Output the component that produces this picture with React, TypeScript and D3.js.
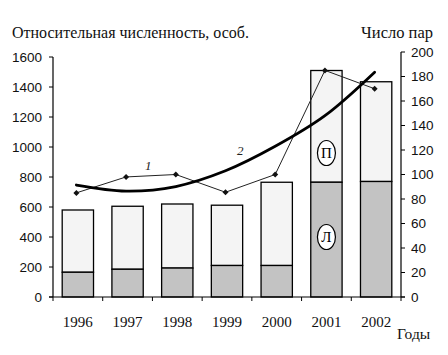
import React from "react";
import * as d3 from "d3";

const years = ["1996", "1997", "1998", "1999", "2000", "2001", "2002"];
// Л (lower, grey) and П (upper, light) components of relative abundance
const lowerL = [165, 185, 193, 210, 210, 765, 770];
const upperP = [415, 420, 427, 402, 555, 745, 665];
// Line 1: number of pairs
const pairs = [85, 98, 100, 85.5, 100, 185, 170];
// Line 2: trend of number of pairs
const trend = [91.4, 86.5, 90.2, 103, 123, 148, 183.5];
const leftTicks = [0, 200, 400, 600, 800, 1000, 1200, 1400, 1600];
const rightTicks = [0, 20, 40, 60, 80, 100, 120, 140, 160, 180, 200];

const W = 448;
const H = 355;
const X0 = 53;
const X1 = 401;
const Y0 = 297;

export default function App() {
  const x = d3
    .scaleBand<string>()
    .domain(years)
    .range([X0, X1])
    .paddingInner(0.37)
    .paddingOuter(0.185);
  const yL = d3.scaleLinear().domain([0, 1600]).range([Y0, 57]);
  const yR = d3.scaleLinear().domain([0, 200]).range([Y0, 52]);
  const bw = x.bandwidth();
  const step = x.step();
  const cx = (y: string) => (x(y) as number) + bw / 2;

  const boundaries = years.map((y) => (x(y) as number) - (step - bw) / 2);
  boundaries.push(X1);

  const line1 = d3
    .line<number>()
    .x((_, i) => cx(years[i]) - 1.5)
    .y((d) => yR(d));
  const line2 = d3
    .line<number>()
    .x((_, i) => cx(years[i]) - 1.5)
    .y((d) => yR(d))
    .curve(d3.curveCatmullRom.alpha(0.5));

  const serif = "'Liberation Serif', 'Times New Roman', serif";
  const sans = "'Liberation Sans', Arial, sans-serif";

  const lastX = cx("2001");

  return (
    <svg
      width={W}
      height={H}
      style={{ position: "absolute", left: 0, top: 0, background: "#fff" }}
    >
      <rect x={0} y={0} width={W} height={H} fill="#fff" />
      {/* bars */}
      {years.map((yr, i) => {
        const l = lowerL[i];
        const p = upperP[i];
        return (
          <g key={yr}>
            <rect
              x={x(yr)}
              y={yL(l + p)}
              width={bw}
              height={yL(l) - yL(l + p)}
              fill="#f4f4f4"
              stroke="#000"
              strokeWidth={1.3}
            />
            <rect
              x={x(yr)}
              y={yL(l)}
              width={bw}
              height={yL(0) - yL(l)}
              fill="#c3c3c3"
              stroke="#000"
              strokeWidth={1.3}
            />
          </g>
        );
      })}

      {/* axes */}
      <line x1={X0} x2={X0} y1={yL(1600)} y2={Y0} stroke="#000" strokeWidth={1.2} />
      <line x1={X1} x2={X1} y1={yR(200)} y2={Y0} stroke="#000" strokeWidth={1.2} />
      <line x1={X0 - 4} x2={X1 + 4} y1={Y0} y2={Y0} stroke="#000" strokeWidth={1.2} />
      {boundaries.map((b, i) => (
        <line key={i} x1={b} x2={b} y1={Y0} y2={Y0 + 4} stroke="#000" strokeWidth={1} />
      ))}
      {leftTicks.map((t) => (
        <g key={"l" + t}>
          <line x1={X0 - 4} x2={X0} y1={yL(t)} y2={yL(t)} stroke="#000" strokeWidth={1} />
          <text
            x={42}
            y={yL(t)}
            dy="0.36em"
            textAnchor="end"
            fontFamily={sans}
            fontSize={13.5}
            fill="#111"
          >
            {t}
          </text>
        </g>
      ))}
      {rightTicks.map((t) => (
        <g key={"r" + t}>
          <line x1={X1} x2={X1 + 4} y1={yR(t)} y2={yR(t)} stroke="#000" strokeWidth={1} />
          <text
            x={411}
            y={yR(t)}
            dy="0.36em"
            textAnchor="start"
            fontFamily={sans}
            fontSize={13.5}
            fill="#111"
          >
            {t}
          </text>
        </g>
      ))}

      {/* lines */}
      <path d={line1(pairs) || ""} fill="none" stroke="#222" strokeWidth={1} />
      {pairs.map((v, i) => {
        const px = cx(years[i]) - 1.5;
        const py = yR(v);
        return (
          <path
            key={"m" + i}
            d={`M${px},${py - 3}L${px + 3},${py}L${px},${py + 3}L${px - 3},${py}Z`}
            fill="#111"
          />
        );
      })}
      <path d={line2(trend) || ""} fill="none" stroke="#000" strokeWidth={2.8} strokeLinecap="round" />

      <text x={145} y={170} fontFamily={serif} fontStyle="italic" fontSize={13} fill="#222">
        1
      </text>
      <text x={237} y={155} fontFamily={serif} fontStyle="italic" fontSize={13} fill="#222">
        2
      </text>

      {/* П and Л markers */}
      <ellipse cx={lastX} cy={153} rx={9} ry={12.5} fill="#fff" stroke="#000" strokeWidth={1.2} />
      <text x={lastX} y={153} dy="0.35em" textAnchor="middle" fontFamily={serif} fontSize={15}>
        П
      </text>
      <ellipse cx={lastX} cy={237} rx={9} ry={12.5} fill="#fff" stroke="#000" strokeWidth={1.2} />
      <text x={lastX} y={237} dy="0.35em" textAnchor="middle" fontFamily={serif} fontSize={15}>
        Л
      </text>

      {/* labels */}
      {years.map((yr) => (
        <text
          key={"x" + yr}
          x={cx(yr)}
          y={327}
          textAnchor="middle"
          fontFamily={serif}
          fontSize={15}
          fill="#111"
        >
          {yr}
        </text>
      ))}
      <text x={397} y={339} fontFamily={serif} fontSize={15.5} fill="#111">
        Годы
      </text>
      <text x={12} y={38} fontFamily={serif} fontSize={16} fill="#111">
        Относительная численность, особ.
      </text>
      <text x={433} y={38} textAnchor="end" fontFamily={serif} fontSize={16.5} fill="#111">
        Число пар
      </text>
    </svg>
  );
}
